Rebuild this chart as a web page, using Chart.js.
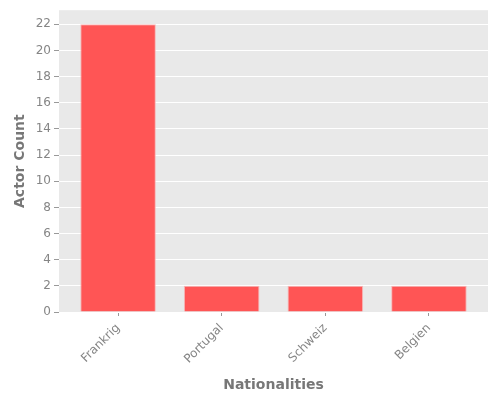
<!DOCTYPE html>
<html>
<head>
<meta charset="utf-8">
<script src="https://cdn.jsdelivr.net/npm/chart.js@4/dist/chart.umd.min.js"></script>
<style>
  html, body { margin: 0; padding: 0; background: #fff; }
  #wrap { width: 500px; height: 400px; }
</style>
</head>
<body>
<div id="wrap"><canvas id="actorChart"></canvas></div>
<script>
// Data
const nationalities = ['Frankrig', 'Portugal', 'Schweiz', 'Belgien']
const actorCounts = [22, 2, 2, 2]
const yTicks = [0, 2, 4, 6, 8, 10, 12, 14, 16, 18, 20, 22]

// grey panel behind the plot (ggplot look)
const panelBg = {
  id: 'panelBg',
  beforeDraw(chart) {
    const { ctx, chartArea: a } = chart
    ctx.save()
    ctx.fillStyle = '#e9e9e9'
    ctx.fillRect(a.left, a.top, a.right - a.left, a.bottom - a.top)
    ctx.restore()
  },
}

const ctx = document.getElementById('actorChart').getContext('2d')
const actorChart = new Chart(ctx, {
  type: 'bar',
  data: {
    datasets: [
      {
        label: 'Actor Count',
        data: actorCounts.map((v, i) => ({ x: i, y: v })),
        backgroundColor: '#ff5555',
        borderColor: 'rgba(250,175,175,0.9)',
        borderWidth: 1,
        barPercentage: 0.9,
        categoryPercentage: 0.81,
      },
    ],
  },
  options: {
    responsive: true,
    maintainAspectRatio: false,
    animation: false,
    devicePixelRatio: 1,
    layout: { padding: { top: 10, right: 12, left: 12, bottom: 6 } },
    plugins: {
      legend: { display: false },
      tooltip: { enabled: false },
    },
    scales: {
      x: {
        type: 'linear',
        offset: false,
        min: -0.57,
        max: 3.57,
        afterBuildTicks: (scale) => {
          scale.ticks = nationalities.map((_, i) => ({ value: i }))
        },
        afterFit: (scale) => { scale.height = 82 },
        grid: {
          offset: false,
          color: 'rgba(0,0,0,0)',
          tickColor: '#999',
          tickLength: 4,
          drawOnChartArea: false,
        },
        border: { display: false },
        ticks: {
          autoSkip: false,
          maxRotation: 45,
          minRotation: 45,
          color: '#858585',
          font: { family: 'DejaVu Sans', size: 12 },
          padding: 5,
          callback: (v) => nationalities[v] ?? '',
        },
        title: {
          display: true,
          text: 'Nationalities',
          color: '#777',
          font: { family: 'DejaVu Sans', size: 14, weight: 'bold' },
          padding: { top: 0, bottom: 0 },
        },
      },
      y: {
        min: 0,
        max: 23.08,
        afterBuildTicks: (scale) => {
          scale.ticks = yTicks.map((v) => ({ value: v }))
        },
        afterFit: (scale) => { scale.width = 47 },
        grid: {
          color: '#ffffff',
          lineWidth: 1,
          tickColor: '#999',
          tickLength: 5,
        },
        border: { display: false },
        ticks: {
          color: '#858585',
          font: { family: 'DejaVu Sans', size: 12 },
          padding: 3,
        },
        title: {
          display: true,
          text: 'Actor Count',
          color: '#777',
          font: { family: 'DejaVu Sans', size: 14, weight: 'bold' },
          padding: { top: 0, bottom: 2 },
        },
      },
    },
  },
  plugins: [panelBg],
})
</script>
</body>
</html>
